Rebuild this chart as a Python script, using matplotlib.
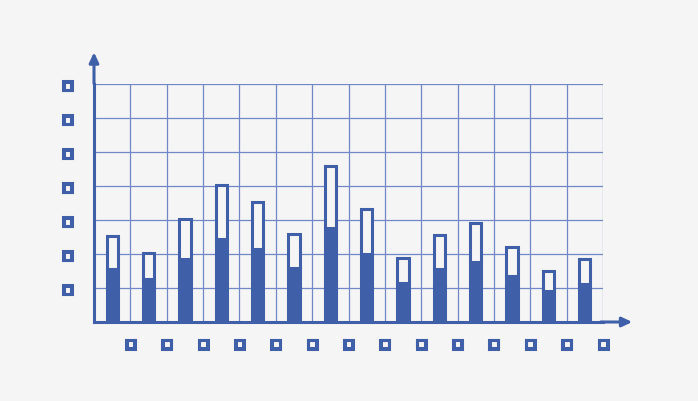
import numpy as np
import matplotlib.pyplot as plt
import matplotlib.patheffects as pe

# ===============================================
# DATA (grid units)
# ===============================================
filled = [1.56, 1.26, 1.85, 2.44, 2.15, 1.59, 2.76, 2.00, 1.15, 1.56, 1.76, 1.35, 0.91, 1.12]
total = [2.53, 2.03, 3.03, 4.03, 3.53, 2.59, 4.59, 3.32, 1.88, 2.56, 2.91, 2.21, 1.50, 1.85]
x_labels = ["\u25a1"] * 14
y_labels = ["\u25a1"] * 7

blue = "#3f5fa8"
grid_c = "#7088c6"
bg = "#f5f5f5"

fig = plt.figure(figsize=(6.98, 4.01), dpi=100, facecolor=bg)
ax = fig.add_axes([94 / 698, 79 / 401, 509 / 698, 238 / 401])
ax.set_facecolor(bg)

x = np.arange(len(filled)) + 0.5
upper = np.array(total) - np.array(filled)

ax.bar(x, filled, width=0.31, color=blue, edgecolor=blue, linewidth=2.2, zorder=3)
ax.bar(x, upper, bottom=filled, width=0.31, color=bg, edgecolor=blue, linewidth=2.2, zorder=3)

ax.set_xlim(0, 14)
ax.set_ylim(0, 7)
ax.set_xticks(np.arange(1, 15))
ax.set_yticks(np.arange(1, 8))
stroke = [pe.withStroke(linewidth=2.2, foreground=blue, joinstyle="miter")]
ax.set_xticklabels(x_labels, color=blue, fontsize=8.5, path_effects=stroke)
ax.set_yticklabels(y_labels, color=blue, fontsize=8.5, path_effects=stroke)
ax.tick_params(length=0)
ax.tick_params(axis="x", pad=11)
ax.tick_params(axis="y", pad=15)
ax.grid(True, color=grid_c, linewidth=0.9, zorder=1)

for s in ["top", "right"]:
    ax.spines[s].set_visible(False)
for s in ["left", "bottom"]:
    ax.spines[s].set_color(blue)
    ax.spines[s].set_linewidth(2.2)
    ax.spines[s].set_zorder(4)

# arrows
arrow = dict(arrowstyle="-|>,head_length=0.6,head_width=0.28", color=blue, lw=2.2)
ax.annotate("", xy=(0, 1.145), xytext=(0, 0.99), xycoords="axes fraction",
            arrowprops=arrow, annotation_clip=False)
ax.annotate("", xy=(1.063, 0), xytext=(0.99, 0), xycoords="axes fraction",
            arrowprops=arrow, annotation_clip=False)

plt.savefig("out.png", dpi=100, facecolor=bg)
